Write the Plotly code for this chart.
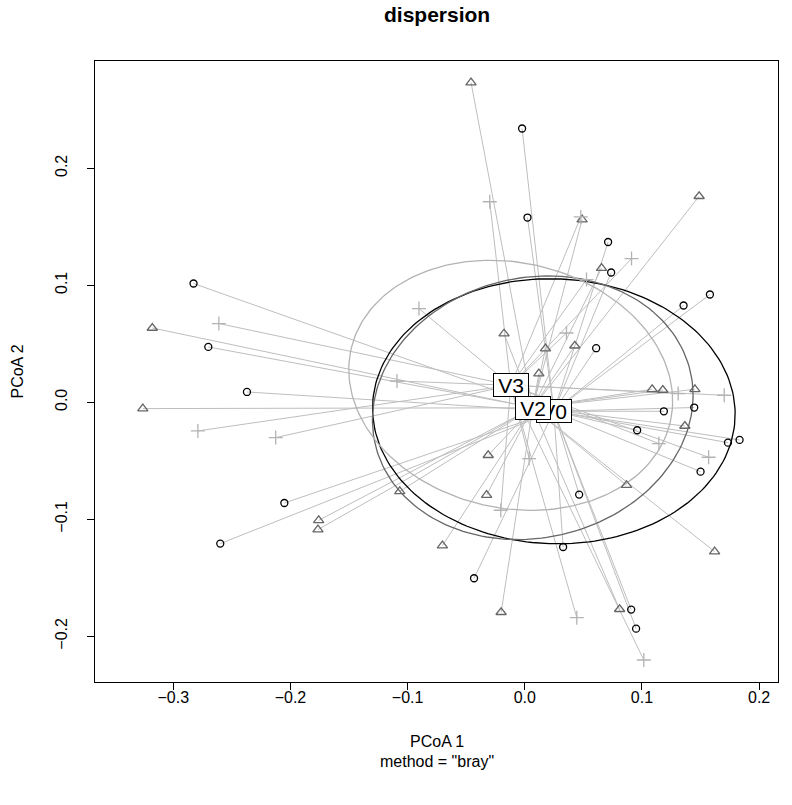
import numpy as np
import plotly.graph_objects as go

# ---- data (PCoA scores) ----
groups = ["V0", "V2", "V3"]

v0_x = [-0.0023, 0.0023, 0.0711, 0.0737, -0.2827, -0.2701, -0.2371, 0.0609, 0.1580, 0.1355,
        0.1187, 0.1446, 0.0959, 0.1734, 0.1833, 0.1500, -0.2052, -0.2599, -0.0433, 0.0464,
        0.0327, 0.0908, 0.0950]
v0_y = [0.2340, 0.1579, 0.1370, 0.1109, 0.1015, 0.0473, 0.0088, 0.0462, 0.0921, 0.0827,
        -0.0077, -0.0045, -0.0239, -0.0345, -0.0322, -0.0593, -0.0861, -0.1208, -0.1504, -0.0789,
        -0.1237, -0.1772, -0.1935]

v2_x = [-0.0459, 0.0489, 0.1488, 0.0655, -0.3179, -0.3260, -0.0177, 0.0177, 0.0120, 0.0427,
        -0.0312, 0.1087, 0.1178, 0.1452, 0.1366, -0.1759, -0.1765, -0.1067, -0.0326, -0.0703,
        -0.0202, 0.0868, 0.1620, 0.0809]
v2_y = [0.2733, 0.1562, 0.1761, 0.1146, 0.0635, -0.0054, 0.0586, 0.0459, 0.0245, 0.0483,
        -0.0453, 0.0111, 0.0105, 0.0111, -0.0203, -0.1009, -0.1088, -0.0761, -0.0793, -0.1225,
        -0.1795, -0.0709, -0.1276, -0.1769]

v3_x = [-0.0299, 0.0478, 0.0911, 0.0527, 0.0356, -0.2611, -0.2790, -0.2126, -0.0903, -0.1091,
        0.0037, 0.1309, 0.1702, 0.1144, 0.1569, 0.0444, 0.1016, -0.0205]
v3_y = [0.1714, 0.1584, 0.1228, 0.1049, 0.0592, 0.0673, -0.0245, -0.0302, 0.0801, 0.0182,
        -0.0481, 0.0074, 0.0060, -0.0353, -0.0470, -0.1841, -0.2203, -0.0923]

centroid_x = [0.0248, 0.0068, -0.0120]
centroid_y = [-0.0077, -0.0047, 0.0145]

x_ticks = [-0.3, -0.2, -0.1, 0.0, 0.1, 0.2]
y_ticks = [-0.2, -0.1, 0.0, 0.1, 0.2]

# ---- styling ----
pt_colors = ["black", "#666666", "#B3B3B3"]
symbols = ["circle-open", "triangle-up-open", "cross-thin-open"]
sizes = [7, 9, 10]
seg_col = "#BEBEBE"
FONT = "Liberation Sans, Arial, Helvetica, sans-serif"

xs_all = [v0_x, v2_x, v3_x]
ys_all = [v0_y, v2_y, v3_y]

fig = go.Figure()

# segments from each site to its group centroid
sx, sy = [], []
for g in range(3):
    cx, cy = centroid_x[g], centroid_y[g]
    for x, y in zip(xs_all[g], ys_all[g]):
        sx += [cx, x, None]
        sy += [cy, y, None]
fig.add_trace(go.Scatter(x=sx, y=sy, mode="lines", line=dict(color=seg_col, width=1),
                         hoverinfo="skip", showlegend=False))

# standard-deviation ellipses around centroids
t = np.linspace(0, 2 * np.pi, 200)
circle = np.vstack([np.cos(t), np.sin(t)])
for g in range(3):
    pts = np.column_stack([xs_all[g], ys_all[g]])
    c = np.array([centroid_x[g], centroid_y[g]])
    d = pts - c
    cov = d.T @ d / (len(pts) - 1)
    vals, vecs = np.linalg.eigh(cov)
    L = vecs @ np.diag(np.sqrt(vals))
    e = (L @ circle).T + c
    fig.add_trace(go.Scatter(x=e[:, 0], y=e[:, 1], mode="lines",
                             line=dict(color=pt_colors[g], width=1.3),
                             hoverinfo="skip", showlegend=False))

# site points
for g in range(3):
    fig.add_trace(go.Scatter(x=xs_all[g], y=ys_all[g], mode="markers", name=groups[g],
                             marker=dict(symbol=symbols[g], size=sizes[g], color=pt_colors[g],
                                         line=dict(width=1.3, color=pt_colors[g])),
                             showlegend=False))

annotations = []
# centroid labels
for g in range(3):
    annotations.append(dict(x=centroid_x[g], y=centroid_y[g], xref="x", yref="y", text=groups[g],
                            showarrow=False, font=dict(family=FONT, size=21, color="black"),
                            width=34, height=22, align="center", valign="middle",
                            bgcolor="white", bordercolor="black", borderwidth=1, borderpad=0))

W, H = 792, 805
plot_left, plot_right, plot_top, plot_bot = 95, 778, 61, 682

def py(p):
    return (plot_bot - p) / (plot_bot - plot_top)

def px(p):
    return (p - plot_left) / (plot_right - plot_left)

annotations += [
    dict(text="<b>dispersion</b>", x=0.5, y=py(15), xref="paper", yref="paper", showarrow=False,
         yanchor="middle", font=dict(family=FONT, size=21, color="black")),
    dict(text="PCoA 1", x=0.5, y=py(741), xref="paper", yref="paper", showarrow=False,
         yanchor="middle", font=dict(family=FONT, size=16, color="black")),
    dict(text='method = "bray"', x=0.5, y=py(762), xref="paper", yref="paper", showarrow=False,
         yanchor="middle", font=dict(family=FONT, size=16, color="black")),
    dict(text="PCoA 2", x=px(17), y=0.5, xref="paper", yref="paper", showarrow=False,
         xanchor="center", yanchor="middle", textangle=-90,
         font=dict(family=FONT, size=16, color="black")),
]

fig.update_layout(
    width=W, height=H,
    margin=dict(l=plot_left, r=W - plot_right, t=plot_top, b=H - plot_bot, autoexpand=False),
    plot_bgcolor="white", paper_bgcolor="white",
    annotations=annotations,
    showlegend=False,
)
fmt = lambda v: f"{v:.1f}".replace("-", "\u2212")
fig.update_xaxes(range=[-0.3668, 0.2161], tickvals=x_ticks, ticktext=[fmt(v) for v in x_ticks],
                 showgrid=False, zeroline=False, showline=True, mirror=True, linecolor="black", linewidth=1,
                 ticks="outside", ticklen=7, tickcolor="black", ticklabelstandoff=-6, automargin=False,
                 tickfont=dict(family=FONT, size=16, color="black"))
fig.update_yaxes(range=[-0.2391, 0.2917], tickvals=y_ticks, ticktext=[fmt(v) for v in y_ticks],
                 showgrid=False, zeroline=False, showline=True, mirror=True, linecolor="black", linewidth=1,
                 ticks="outside", ticklen=7, tickcolor="black", tickangle=-90, ticklabelstandoff=14,
                 automargin=False, tickfont=dict(family=FONT, size=16, color="black"))

fig.write_html("out.html", config={"displayModeBar": False},
               post_script="document.body.style.margin='0';document.body.style.padding='0';")
